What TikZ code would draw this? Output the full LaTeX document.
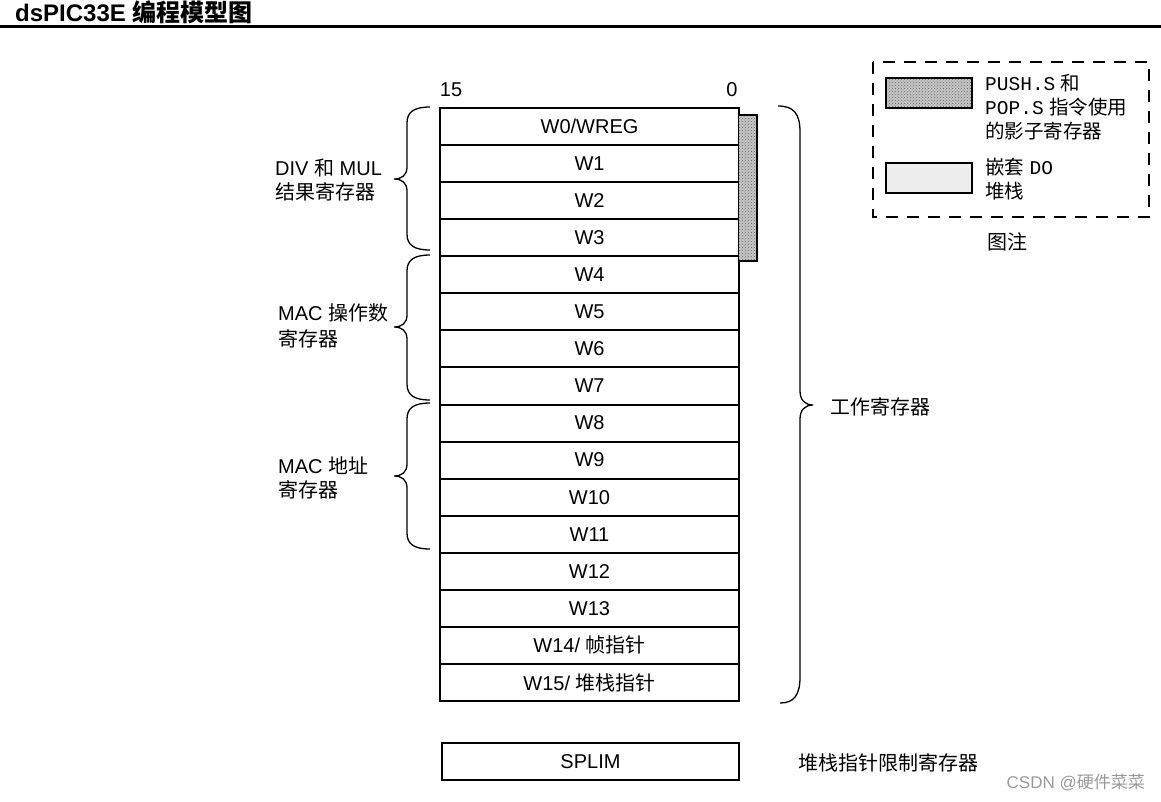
\documentclass[tikz,border=0pt]{standalone}
\usepackage{fontspec}
\setmainfont{Liberation Sans}
\setmonofont{Liberation Mono}
\newfontfamily\cjk{Noto Sans CJK SC}
\usetikzlibrary{patterns}
\newcommand\zh[1]{{\cjk #1}}
\newcommand\leftbr[3]{%
 \draw[bracepath] (430,#1) .. controls (414,#1) and (407,#1+5) .. (407,#1+16) -- (407,#3-12)
   .. controls (407,#3-4) and (402,#3) .. (394,#3) .. controls (402,#3) and (407,#3+4) .. (407,#3+12)
   -- (407,#2-16) .. controls (407,#2-5) and (414,#2) .. (430,#2);}
\begin{document}
\begin{tikzpicture}[x=1pt,y=-1pt,
  reg/.style={draw, line width=2pt, minimum width=299pt, minimum height=37.06pt, inner sep=0pt,
     font=\fontsize{20}{24}\selectfont, anchor=north west},
  lbl/.style={font=\fontsize{20}{25}\selectfont, align=left, anchor=west, inner sep=0pt},
  bracepath/.style={line width=1.3pt},
  swatch/.style={draw, line width=2pt, minimum width=86pt, minimum height=30pt, inner sep=0pt},
  shadowfill/.style={preaction={fill=gray!45}, pattern=crosshatch dots, pattern color=black!60}]
\useasboundingbox (0,0) rectangle (1161,801);
% title
\node[anchor=base west, inner sep=0pt, font=\fontsize{24}{30}\selectfont\bfseries] (title) at (15,21) {dsPIC33E \zh{编程模型图}};
\draw[line width=2.5pt] (0,26.5) -- (1161,26.5);
% bit labels
\node[font=\fontsize{20}{24}\selectfont] (b15) at (451,90) {15};
\node[font=\fontsize{20}{24}\selectfont] (b0) at (732,90) {0};
% registers
\foreach \t [count=\i from 0] in {W0/WREG, W1, W2, W3, W4, W5, W6, W7, W8, W9, W10, W11, W12, W13, {W14/ \zh{帧指针}}, {W15/ \zh{堆栈指针}}}
  \node[reg] (w\i) at (439,107+\i*37.0625) {\t};
% shadow bar
\path[shadowfill] (739,115) rectangle (757,261);
\draw[line width=2pt] (739,115) -- (757,115) -- (757,261) -- (739,261);
% left braces
\leftbr{107}{250}{179}
\leftbr{255}{400}{327}
\leftbr{403}{549}{476}
\node[lbl, font=\fontsize{20}{24}\selectfont] (l1) at (275,180) {DIV \zh{和} MUL\\\zh{结果寄存器}};
\node[lbl, font=\fontsize{20}{26}\selectfont] (l2) at (278,326) {MAC \zh{操作数}\\\zh{寄存器}};
\node[lbl, font=\fontsize{20}{24}\selectfont] (l3) at (278,478) {MAC \zh{地址}\\\zh{寄存器}};
% right brace
\draw[bracepath] (778,106) .. controls (794,106) and (800,114) .. (800,132) -- (800,391)
  .. controls (800,400) and (805,405) .. (813,405) .. controls (805,405) and (800,410) .. (800,419)
  -- (800,677) .. controls (800,695) and (794,703) .. (780,703);
\node[lbl] (work) at (830,407) {\zh{工作寄存器}};
% SPLIM
\node[draw, line width=2pt, minimum width=297pt, minimum height=37pt, inner sep=0pt, font=\fontsize{20}{24}\selectfont] (splim) at (590.5,761.5) {SPLIM};
\node[lbl] (splimlbl) at (798,763) {\zh{堆栈指针限制寄存器}};
% legend
\draw[line width=2pt, dash pattern=on 12pt off 9pt] (873,62) rectangle (1149,217);
\node[swatch, shadowfill] (sw1) at (929,93) {};
\node[swatch, fill=gray!14] (sw2) at (929,178) {};
\node[lbl, font=\fontsize{19.5}{24}\selectfont] (lg1) at (985,107) {{\ttfamily PUSH.S} \zh{和}\\{\ttfamily POP.S} \zh{指令使用}\\\zh{的影子寄存器}};
\node[lbl, font=\fontsize{19.5}{24}\selectfont] (lg2) at (985,179) {\zh{嵌套} {\ttfamily DO}\\\zh{堆栈}};
\node[font=\fontsize{20}{24}\selectfont] (legt) at (1007,242) {\zh{图注}};
% watermark
\node[anchor=east, inner sep=0pt, text=gray!80, font=\fontsize{17}{20}\selectfont] (wm) at (1145,783) {CSDN @\zh{硬件菜菜}};
\end{tikzpicture}
\end{document}
